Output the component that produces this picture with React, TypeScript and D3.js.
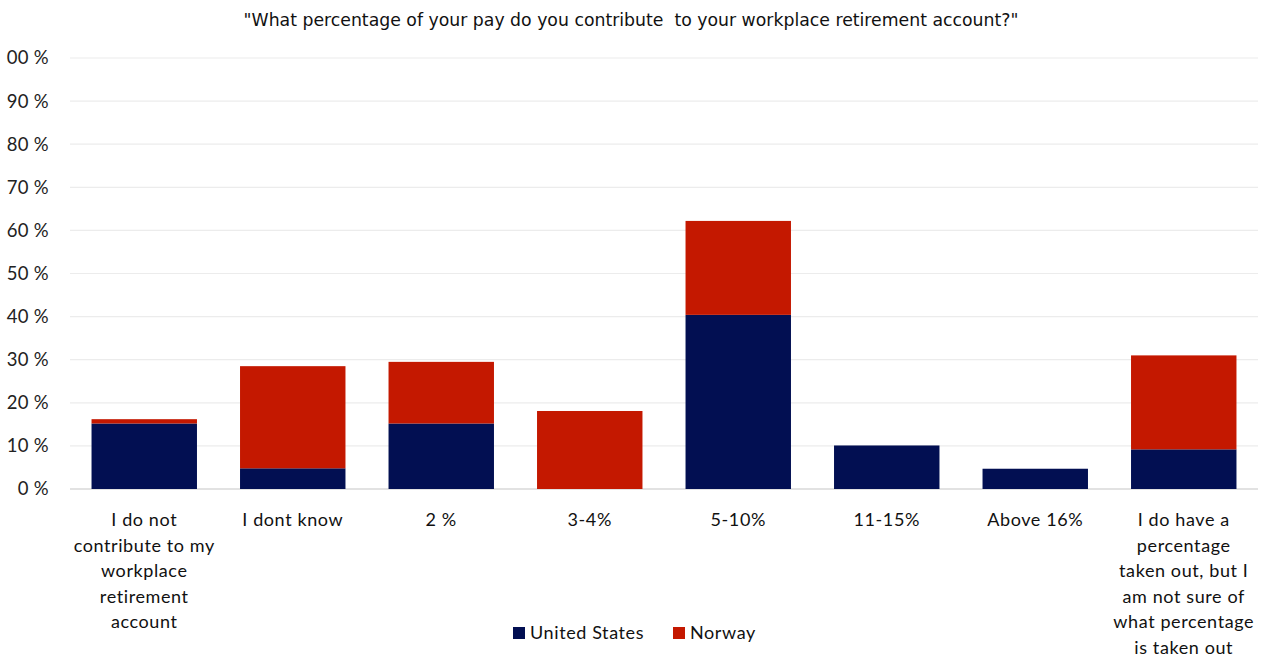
import React from "react";
import * as d3 from "d3";

const categories = [
  "I do not contribute to my workplace retirement account",
  "I dont know",
  "2 %",
  "3-4%",
  "5-10%",
  "11-15%",
  "Above 16%",
  "I do have a percentage taken out, but I am not sure of what percentage is taken out",
];
const categoryLines = [
  ["I do not", "contribute to my", "workplace", "retirement", "account"],
  ["I dont know"],
  ["2 %"],
  ["3-4%"],
  ["5-10%"],
  ["11-15%"],
  ["Above 16%"],
  ["I do have a", "percentage", "taken out, but I", "am not sure of", "what percentage", "is taken out"],
];
const seriesNames = ["United States", "Norway"];
const usValues = [15.2, 4.8, 15.2, 0, 40.4, 10.1, 4.7, 9.2];
const norwayValues = [1.0, 23.7, 14.3, 18.1, 21.8, 0, 0, 21.8];
const yTicks = [0, 10, 20, 30, 40, 50, 60, 70, 80, 90, 100];
const yTickLabels = ["0 %", "10 %", "20 %", "30 %", "40 %", "50 %", "60 %", "70 %", "80 %", "90 %", "00 %"];
const colors = ["#020F52", "#C41800"];
const title = "\"What percentage of your pay do you contribute  to your workplace retirement account?\"";

export default function App() {
  const W = 1269, H = 658;
  const left = 70, right = 1258, top = 58, bottom = 489;
  const x = d3.scaleBand<string>().domain(categories).range([left, right]).paddingInner(0.29).paddingOuter(0.145);
  const y = d3.scaleLinear().domain([0, 100]).range([bottom, top]);
  const rows = categories.map((c, i) => ({ cat: c, us: usValues[i], no: norwayValues[i] }));
  const stacked = d3.stack<any>().keys(["us", "no"])(rows);
  const font = "Lato, 'Open Sans', sans-serif";
  return (
    <svg width={W} height={H} style={{ position: "absolute", left: 0, top: 0, background: "#fff" }}>
      <text x={631} y={26} textAnchor="middle" fontFamily="'DejaVu Sans', sans-serif" fontSize={17.3} fill="#111" style={{ whiteSpace: "pre" }}>{title}</text>
      {yTicks.map((t, i) => (
        <g key={t}>
          <line x1={left} x2={right} y1={y(t)} y2={y(t)} stroke={t === 0 ? "#d9d9d9" : "#ececec"} strokeWidth={t === 0 ? 1.5 : 1.2} />
          <text x={49} y={y(t)} dy="0.35em" textAnchor="end" fontFamily={font} fontSize={18.5} letterSpacing={0.3} fill="#222">{yTickLabels[i]}</text>
        </g>
      ))}
      {stacked.map((s, si) => (
        <g key={si} fill={colors[si]}>
          {s.map((d: any, i: number) => {
            const h = y(d[0]) - y(d[1]);
            if (h <= 0) return null;
            return <rect key={i} x={x(categories[i])} y={y(d[1])} width={x.bandwidth()} height={h} />;
          })}
        </g>
      ))}
      {categoryLines.map((lines, i) => (
        <text key={i} textAnchor="middle" fontFamily={font} fontSize={18} letterSpacing={0.6} fill="#111">
          {lines.map((l, j) => (
            <tspan key={j} x={(x(categories[i]) as number) + x.bandwidth() / 2} y={526 + j * 25.5}>{l}</tspan>
          ))}
        </text>
      ))}
      {seriesNames.map((n, i) => {
        const lx = i === 0 ? 513 : 673;
        return (
          <g key={n}>
            <rect x={lx} y={627} width={12} height={12} fill={colors[i]} />
            <text x={lx + 17} y={633} dy="0.35em" fontFamily={font} fontSize={18} letterSpacing={0.6} fill="#111">{n}</text>
          </g>
        );
      })}
    </svg>
  );
}
